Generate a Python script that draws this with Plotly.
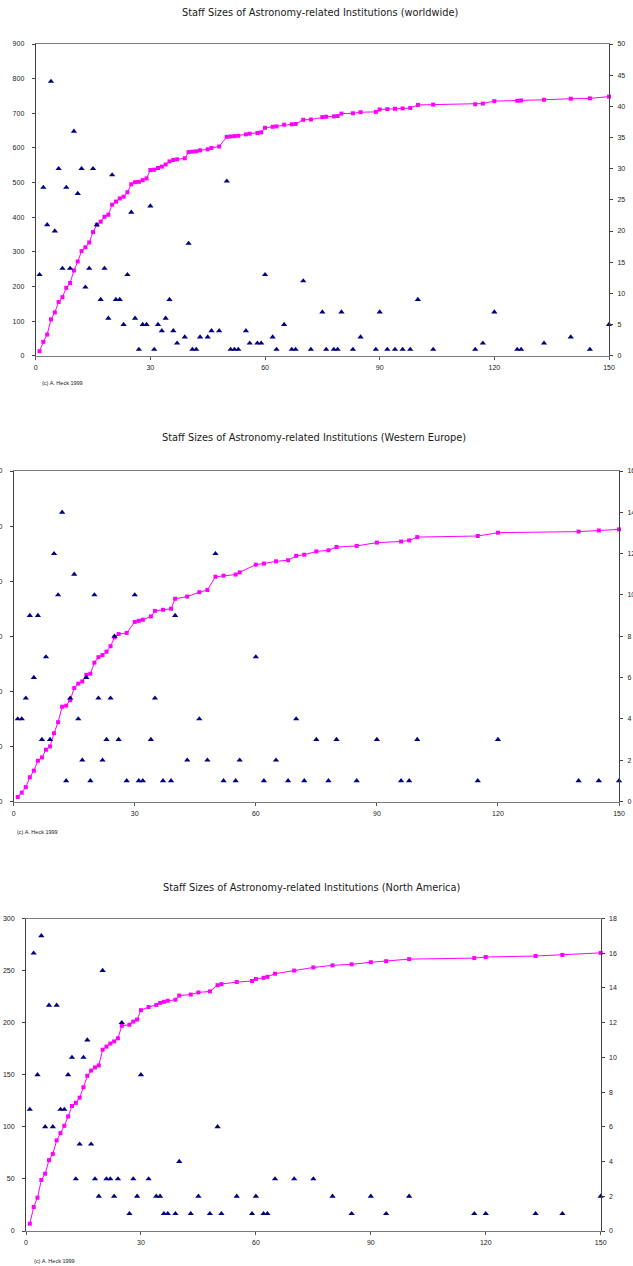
import plotly.graph_objects as go

# ---------------- data ----------------
ww_x = [1,2,3,4,5,6,7,8,9,10,11,12,13,14,15,16,17,18,19,20,21,22,23,24,25,26,27,28,29,30,31,32,33,34,35,36,37,
        39,40,41,42,43,45,46,48,50,51,52,53,55,56,58,59,60,62,63,65,67,68,70,72,75,76,78,79,80,83,85,89,
        90,92,94,96,98,100,104,115,117,120,126,127,133,140,145,150]
ww_n = [13,27,21,44,20,30,14,27,14,36,26,30,11,14,30,21,9,14,6,29,9,9,5,13,23,6,1,5,5,24,1,5,4,6,9,4,2,
        3,18,1,1,3,3,4,4,28,1,1,1,4,2,2,2,13,3,1,5,1,1,12,1,7,1,1,1,7,1,3,1,
        7,1,1,1,1,9,1,1,2,7,1,1,2,3,1,5]
ww_cum = [13,40,61,105,125,155,169,196,210,246,272,302,313,327,357,378,387,401,407,436,445,454,459,472,495,501,502,507,512,536,537,542,546,552,561,565,567,
          570,588,589,590,593,596,600,604,632,633,634,635,639,641,643,645,658,661,662,667,668,669,681,682,689,690,691,692,699,700,703,704,
          711,712,713,714,715,724,725,726,728,735,736,737,739,742,743,748]

we_x = [1,2,3,4,5,6,7,8,9,10,11,12,13,14,15,16,17,18,19,20,21,22,23,24,25,26,28,30,31,32,34,35,37,39,40,
        43,46,48,50,52,55,56,60,62,65,68,70,72,75,78,80,85,90,96,98,100,115,120,140,145,150]
we_n = [4,4,5,9,6,9,3,7,3,12,10,14,1,5,11,4,2,6,1,10,5,2,3,5,8,3,1,10,1,1,3,5,1,1,9,
        2,4,2,12,1,1,2,7,1,2,1,4,1,3,1,3,1,3,1,1,3,1,3,1,1,1]
we_cum = [4,8,13,22,28,37,40,47,50,62,72,86,87,92,103,107,109,115,116,126,131,133,136,141,149,152,153,163,164,165,168,173,174,175,184,
          186,190,192,204,205,206,208,215,216,218,219,223,224,227,228,231,232,235,236,237,240,241,244,245,246,247]

na_x = [1,2,3,4,5,6,7,8,9,10,11,12,13,14,15,16,17,18,19,20,21,22,23,24,25,27,28,29,30,32,34,35,36,37,39,40,
        43,45,48,50,51,55,59,60,62,63,65,70,75,80,85,90,94,100,117,120,133,140,150]
na_n = [7,16,9,17,6,13,6,13,7,7,9,10,3,5,10,11,5,3,2,15,3,3,2,3,12,1,3,2,9,3,2,2,1,1,1,4,
        1,2,1,6,1,2,1,2,1,1,3,3,3,2,1,2,1,2,1,1,1,1,2]
na_cum = [7,23,32,49,55,68,74,87,94,101,110,120,123,128,138,149,154,157,159,174,177,180,182,185,197,198,201,203,212,215,217,219,220,221,222,226,
          227,229,230,236,237,239,240,242,243,244,247,250,253,255,256,258,259,261,262,263,264,265,267]

titles = ["Staff Sizes of Astronomy-related Institutions (worldwide)",
          "Staff Sizes of Astronomy-related Institutions (Western Europe)",
          "Staff Sizes of Astronomy-related Institutions (North America)"]
credit = "(c) A. Heck 1999"
x_ticks = [0, 30, 60, 90, 120, 150]

# ---------------- layout geometry ----------------
W, H = 633, 1266
panels = [
    dict(xs=ww_x, n=ww_n, cum=ww_cum, left=(35.7, 609), top=44, bottom=355.7,
         lmax=900, ldt=100, rmax=50, rdt=5, title_xy=(319.5, 12.5), credit_xy=(40, 383)),
    dict(xs=we_x, n=we_n, cum=we_cum, left=(13.7, 619), top=471, bottom=801.5,
         lmax=300, ldt=50, rmax=16, rdt=2, title_xy=(314, 437), credit_xy=(15, 832)),
    dict(xs=na_x, n=na_n, cum=na_cum, left=(26, 600.7), top=918.5, bottom=1231,
         lmax=300, ldt=50, rmax=18, rdt=2, title_xy=(311, 887), credit_xy=(32, 1261)),
]

fig = go.Figure()
font_tick = dict(family="Liberation Sans, Arial, sans-serif", size=7, color="#1a1a1a")
layout = dict(width=W, height=H, margin=dict(l=0, r=0, t=0, b=0),
              paper_bgcolor="white", plot_bgcolor="white", showlegend=False,
              annotations=[])

for i, p in enumerate(panels):
    xa = "x" if i == 0 else f"x{i+1}"
    yl_idx = 2 * i + 1
    yr_idx = 2 * i + 2
    yl = "y" if yl_idx == 1 else f"y{yl_idx}"
    yr = f"y{yr_idx}"
    xkey = "xaxis" if i == 0 else f"xaxis{i+1}"
    ylkey = "yaxis" if yl_idx == 1 else f"yaxis{yl_idx}"
    yrkey = f"yaxis{yr_idx}"
    xd = [p["left"][0] / W, p["left"][1] / W]
    yd = [1 - p["bottom"] / H, 1 - p["top"] / H]

    fig.add_trace(go.Scatter(x=p["xs"], y=p["cum"], xaxis=xa, yaxis=yl, mode="lines+markers",
                             line=dict(color="#FF00FF", width=1),
                             marker=dict(symbol="square", size=4, color="#FF00FF"),
                             cliponaxis=False, hoverinfo="skip"))
    fig.add_trace(go.Scatter(x=p["xs"], y=p["n"], xaxis=xa, yaxis=yr, mode="markers",
                             marker=dict(symbol="triangle-up", size=5.5, color="#000080",
                                         line=dict(width=0)),
                             cliponaxis=False, hoverinfo="skip"))

    layout[xkey] = dict(domain=xd, range=[0, 150], tickvals=x_ticks, ticktext=[str(v) for v in x_ticks],
                        anchor=yl, showline=True, linecolor="#7a7a7a", linewidth=1, mirror=True,
                        ticks="outside", ticklen=3, tickcolor="#555", showgrid=False, zeroline=False,
                        tickfont=font_tick, automargin=False, fixedrange=True, ticklabelstandoff=2,
                        ticklabeloverflow="allow")
    layout[ylkey] = dict(domain=yd, range=[0, p["lmax"]], dtick=p["ldt"], anchor=xa,
                         showline=True, linecolor="#404040", linewidth=1, ticks="outside", ticklen=3,
                         tickcolor="#404040", showgrid=False, zeroline=False, tickfont=font_tick,
                         automargin=False, fixedrange=True, ticklabelstandoff=6,
                         ticklabeloverflow="allow")
    layout[yrkey] = dict(domain=yd, range=[0, p["rmax"]], dtick=p["rdt"], anchor=xa, overlaying=yl,
                         side="right", showline=True, linecolor="#404040", linewidth=1, ticks="outside",
                         ticklen=3, tickcolor="#404040", showgrid=False, zeroline=False,
                         tickfont=font_tick, automargin=False, fixedrange=True, ticklabelstandoff=3,
                         ticklabeloverflow="allow")

    tx, ty = p["title_xy"]
    layout["annotations"].append(dict(text=titles[i], x=tx / W, y=1 - ty / H, xref="paper", yref="paper",
                                      xanchor="center", yanchor="middle", showarrow=False,
                                      font=dict(family="DejaVu Sans, Verdana, sans-serif", size=9.8,
                                                color="#1a1a1a")))
    cx, cy = p["credit_xy"]
    layout["annotations"].append(dict(text=credit, x=cx / W, y=1 - cy / H, xref="paper", yref="paper",
                                      xanchor="left", yanchor="middle", showarrow=False,
                                      font=dict(family="Liberation Sans, Arial, sans-serif", size=5.5,
                                                color="#1a1a1a")))

fig.update_layout(**layout)
fig.write_html("out.html", config={"displayModeBar": False, "staticPlot": True},
               post_script="document.body.style.margin='0';document.body.style.padding='0';"
                           "document.body.style.overflow='hidden';")
